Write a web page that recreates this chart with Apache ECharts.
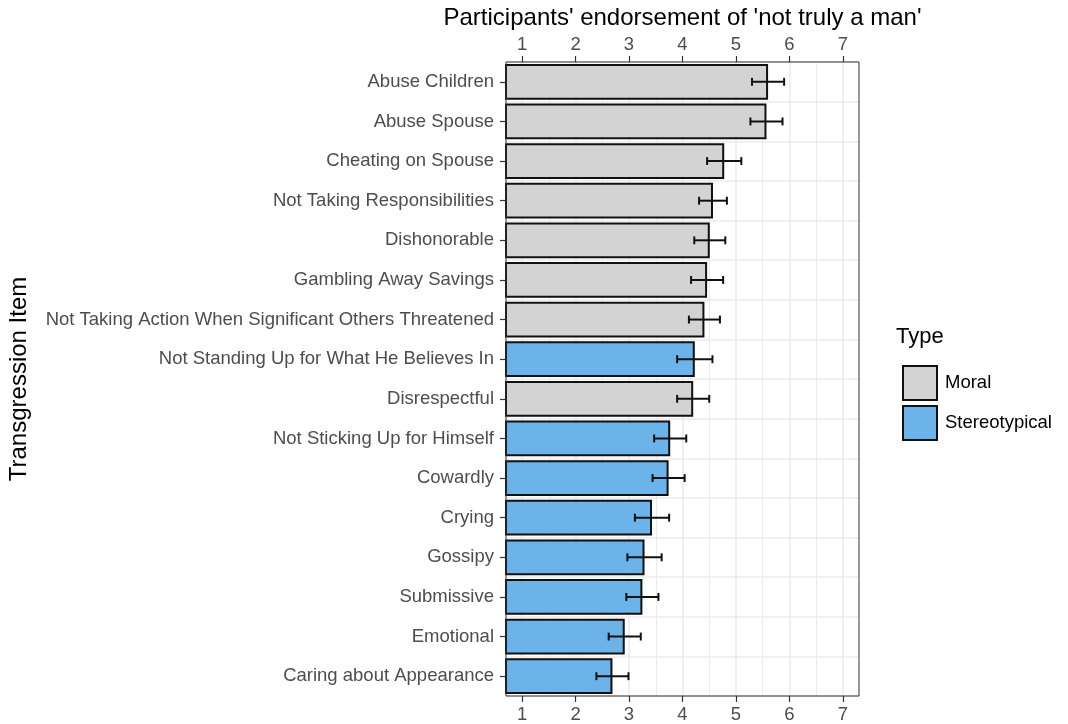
<!DOCTYPE html>
<html>
<head>
<meta charset="utf-8">
<script src="https://cdn.jsdelivr.net/npm/echarts@6/dist/echarts.min.js"></script>
<style>
  html, body { margin: 0; padding: 0; background: #fff; }
  #chart { width: 1068px; height: 724px; }
</style>
</head>
<body>
<div id="chart"></div>
<script>
// Transgression items, top to bottom
const categories = [
  'Abuse Children', 'Abuse Spouse', 'Cheating on Spouse', 'Not Taking Responsibilities',
  'Dishonorable', 'Gambling Away Savings', 'Not Taking Action When Significant Others Threatened',
  'Not Standing Up for What He Believes In', 'Disrespectful', 'Not Sticking Up for Himself',
  'Cowardly', 'Crying', 'Gossipy', 'Submissive', 'Emotional', 'Caring about Appearance'
];
const itemTypes = [
  'Moral', 'Moral', 'Moral', 'Moral', 'Moral', 'Moral', 'Moral',
  'Stereotypical', 'Moral', 'Stereotypical', 'Stereotypical', 'Stereotypical',
  'Stereotypical', 'Stereotypical', 'Stereotypical', 'Stereotypical'
];
// Mean endorsement on the 1-7 scale
const meanScores = [5.60, 5.57, 4.78, 4.57, 4.51, 4.46, 4.41, 4.23, 4.20, 3.77, 3.74, 3.43, 3.29, 3.25, 2.92, 2.69];
// Half-width of each error bar
const errorHalfWidths = [0.30, 0.30, 0.32, 0.26, 0.29, 0.30, 0.29, 0.33, 0.30, 0.30, 0.30, 0.32, 0.32, 0.30, 0.30, 0.30];
const typeNames = ['Moral', 'Stereotypical'];
const typeColors = { Moral: '#d3d3d3', Stereotypical: '#6bb3e8' };
const tickValues = [1, 2, 3, 4, 5, 6, 7];
const minorGridValues = [1.5, 2.5, 3.5, 4.5, 5.5, 6.5];
const scaleMin = 0.7, scaleMax = 7.3;

const textGrey = '#4d4d4d';
const lineDark = '#333333';
const gridGrey = '#ebebeb';
const fontFamily = 'Liberation Sans, Arial, sans-serif';
const labelSize = 18.5;

const barSeries = typeNames.map(t => ({
  name: t,
  type: 'bar',
  xAxisIndex: 0,
  yAxisIndex: 0,
  barWidth: '90%',
  barGap: '-100%',
  clip: true,
  z: 3,
  itemStyle: { color: typeColors[t], borderColor: '#111', borderWidth: 2 },
  data: meanScores.map((v, i) => itemTypes[i] === t ? v : '-')
}));

const errorData = meanScores.map((v, i) => [i, v - errorHalfWidths[i], v + errorHalfWidths[i]]);

const chart = echarts.init(document.getElementById('chart'), null, { renderer: 'canvas' });
chart.setOption({
  animation: false,
  backgroundColor: '#ffffff',
  textStyle: { fontFamily },
  grid: {
    left: 506, top: 62, right: 209, bottom: 28,
    show: true, borderColor: lineDark, borderWidth: 1, backgroundColor: 'transparent', z: 4
  },
  legend: {
    data: typeNames,
    orient: 'vertical',
    left: 897, top: 360,
    itemWidth: 34, itemHeight: 34, itemGap: 4,
    icon: 'rect',
    selectedMode: false,
    itemStyle: { borderColor: '#111', borderWidth: 2 },
    textStyle: { fontSize: labelSize, color: '#000', padding: [0, 0, 0, 3], fontFamily }
  },
  graphic: [{
    type: 'text', left: 896, top: 326,
    style: { text: 'Type', fontSize: 22, fill: '#000', fontFamily }
  }],
  xAxis: [
    {
      // bottom axis: bars, error bars and major vertical gridlines
      type: 'value', position: 'bottom', min: scaleMin, max: scaleMax,
      axisLine: { show: false, onZero: false },
      axisTick: { show: true, length: 6, lineStyle: { color: lineDark, width: 1.2 }, customValues: tickValues },
      axisLabel: { color: textGrey, fontSize: labelSize, margin: 9, customValues: tickValues, fontFamily },
      splitLine: { show: true, lineStyle: { color: gridGrey, width: 1.6 } }
    },
    {
      // top axis with title
      type: 'value', position: 'top', min: scaleMin, max: scaleMax,
      name: "Participants' endorsement of 'not truly a man'",
      nameLocation: 'middle', nameGap: 30,
      nameTextStyle: { fontSize: 24, color: '#000', fontFamily },
      axisLine: { show: false, onZero: false },
      axisTick: { show: true, length: 6, lineStyle: { color: lineDark, width: 1.2 }, customValues: tickValues },
      axisLabel: { color: textGrey, fontSize: labelSize, margin: 8, customValues: tickValues, fontFamily },
      splitLine: { show: false }
    },
    {
      // minor vertical gridlines
      type: 'value', position: 'bottom', min: scaleMin, max: scaleMax,
      axisLine: { show: false, onZero: false },
      axisTick: { show: false, customValues: minorGridValues },
      axisLabel: { show: false, customValues: minorGridValues },
      splitLine: { show: true, lineStyle: { color: gridGrey, width: 1 } }
    }
  ],
  yAxis: [
    {
      type: 'category', data: categories, inverse: true,
      name: 'Transgression Item', nameLocation: 'middle', nameGap: 475, nameRotate: 90,
      nameTextStyle: { fontSize: 24, color: '#000', fontFamily },
      axisLine: { show: false, onZero: false },
      axisTick: { show: true, alignWithLabel: true, length: 6, lineStyle: { color: lineDark, width: 1.2 } },
      axisLabel: { color: textGrey, fontSize: labelSize, margin: 12, fontFamily },
      splitLine: { show: false }
    },
    {
      // horizontal gridlines at each item
      type: 'value', min: -0.5, max: 15.5, interval: 1, position: 'right',
      axisLine: { show: false, onZero: false }, axisTick: { show: false }, axisLabel: { show: false },
      splitLine: { show: true, lineStyle: { color: gridGrey, width: 1.6 } }
    }
  ],
  series: [
    ...barSeries,
    {
      name: 'error',
      type: 'custom',
      xAxisIndex: 0, yAxisIndex: 0,
      z: 5,
      encode: { x: [1, 2], y: 0 },
      data: errorData,
      renderItem: function (params, api) {
        const idx = api.value(0);
        const lo = api.coord([api.value(1), idx]);
        const hi = api.coord([api.value(2), idx]);
        const cap = api.size([0, 1])[1] * 0.2 / 2;
        const style = { stroke: '#111', lineWidth: 2 };
        return {
          type: 'group',
          children: [
            { type: 'line', shape: { x1: lo[0], y1: lo[1], x2: hi[0], y2: hi[1] }, style },
            { type: 'line', shape: { x1: lo[0], y1: lo[1] - cap, x2: lo[0], y2: lo[1] + cap }, style },
            { type: 'line', shape: { x1: hi[0], y1: hi[1] - cap, x2: hi[0], y2: hi[1] + cap }, style }
          ]
        };
      }
    }
  ]
});
</script>
</body>
</html>
